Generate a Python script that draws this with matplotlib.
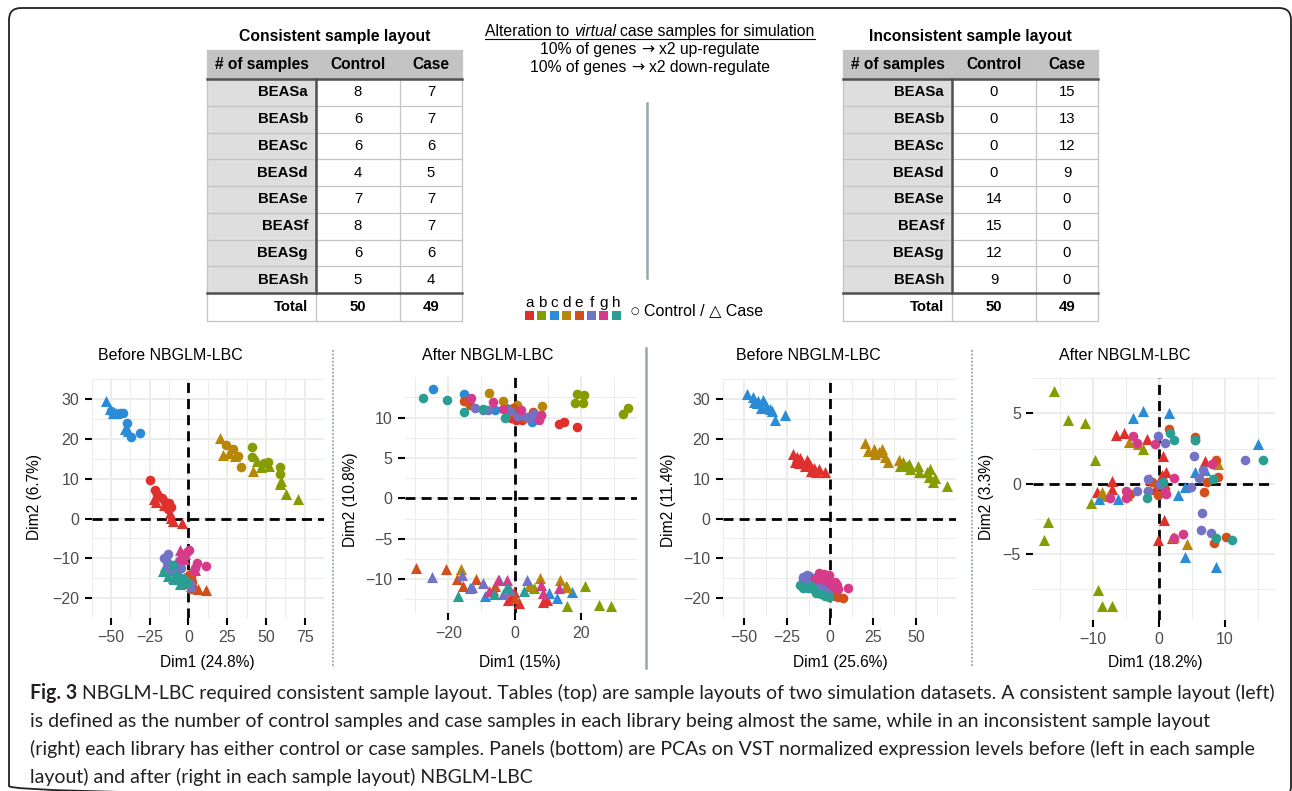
import matplotlib
matplotlib.use("Agg")
import matplotlib.pyplot as plt
from matplotlib.patches import Rectangle, FancyBboxPatch

plt.rcParams['font.family'] = ['Liberation Sans', 'DejaVu Sans']

# ---------------- data ----------------
libs = ["a", "b", "c", "d", "e", "f", "g", "h"]
lib_colors = ["#e0302e", "#879c00", "#2a8bd6", "#b8870a",
              "#d24f1c", "#7373c6", "#d63b89", "#2a9e92"]

row_labels = ["BEASa", "BEASb", "BEASc", "BEASd", "BEASe", "BEASf", "BEASg", "BEASh"]
consistent_control = [8, 6, 6, 4, 7, 8, 6, 5]
consistent_case = [7, 7, 6, 5, 7, 7, 6, 4]
inconsistent_control = [0, 0, 0, 0, 14, 15, 12, 9]
inconsistent_case = [15, 13, 12, 9, 0, 0, 0, 0]

panel_titles = ["Before NBGLM-LBC", "After NBGLM-LBC", "Before NBGLM-LBC", "After NBGLM-LBC"]
panel_xlabels = ["Dim1 (24.8%)", "Dim1 (15%)", "Dim1 (25.6%)", "Dim1 (18.2%)"]
panel_ylabels = ["Dim2 (6.7%)", "Dim2 (10.8%)", "Dim2 (11.4%)", "Dim2 (3.3%)"]

# PCA points: (library, Dim1, Dim2)
p1_control = [
    ("a", -25, 9.7), ("a", -21.5, 7.2), ("a", -20.5, 6.2), ("a", -17, 5.2), ("a", -15, 4.2),
    ("a", -12.5, 3.8), ("a", -11.5, 3.0), ("a", -13.5, 2.5),
    ("b", 41.3, 18), ("b", 41.3, 15.4), ("b", 51.4, 14.2), ("b", 58.8, 12.9), ("b", 59.2, 11.2), ("b", 49, 14.0),
    ("c", -50, 27), ("c", -44, 26.5), ("c", -42, 26.5), ("c", -40, 24), ("c", -37, 20.5), ("c", -31, 21.5),
    ("d", 24.5, 18.5), ("d", 28.5, 17.4), ("d", 32, 15.6), ("d", 34, 13),
    ("e", 0.5, -14.2), ("e", 1.5, -15), ("e", -1, -15.5), ("e", 2, -16), ("e", -6, -12.5), ("e", -2, -16.5), ("e", 3, -13.5),
    ("f", -13.5, -8.8), ("f", -16, -9.8), ("f", -14, -11), ("f", -8.5, -12), ("f", -7, -11.5), ("f", -10, -13),
    ("f", -5, -12.5), ("f", 1, -16.5),
    ("g", 0.3, -7.9), ("g", 5.2, -11.3), ("g", 11.6, -12.0), ("g", -3, -9.5), ("g", -1, -8.5), ("g", 4, -12.5),
    ("h", -10, -11.7), ("h", -2, -15.5), ("h", -1, -16.2), ("h", -5, -15), ("h", -8, -14.5),
]
p1_case = [
    ("a", -22, 5.0), ("a", -21, 4.2), ("a", -16, 3.5), ("a", -12, 1.5), ("a", -11, 0.2), ("a", -10, -0.5), ("a", -4, -1.0),
    ("b", 44.2, 14.5), ("b", 47.1, 12.9), ("b", 52, 13.2), ("b", 58.8, 8.7), ("b", 60, 9.5), ("b", 63.1, 6.2), ("b", 70.5, 4.9),
    ("c", -53.5, 29.5), ("c", -51, 27.5), ("c", -49, 26.5), ("c", -47, 26.5), ("c", -41, 22.5), ("c", -39, 22.0),
    ("d", 20.5, 20.2), ("d", 22, 16), ("d", 26, 16.5), ("d", 30, 15.8), ("d", 41.5, 12),
    ("e", 4.5, -17.5), ("e", 11, -18), ("e", 6, -17.8), ("e", 2, -17), ("e", 0, -16), ("e", -2, -15), ("e", 3, -17.5),
    ("f", -15, -12), ("f", -12, -13), ("f", -8, -11), ("f", -6, -14), ("f", -3, -15), ("f", 1.5, -17), ("f", -10, -15),
    ("g", -5.5, -8.0), ("g", -3.2, -10.2), ("g", -2, -9), ("g", 3.5, -12.5), ("g", 4, -13), ("g", -6, -10),
    ("h", -16.3, -13.1), ("h", -13.3, -14.5), ("h", -9.4, -15.3), ("h", -5.5, -16.4),
]

p2_control = [
    ("a", -1, 9.9), ("a", 0.5, 9.7), ("a", 2.2, 9.7), ("a", 4, 10.1), ("a", 13.4, 9.2), ("a", 14.8, 9.4),
    ("a", 19, 8.8), ("a", -2, 10.3),
    ("b", 18.8, 12.9), ("b", 21, 12.8), ("b", 18.3, 11.8), ("b", 20.8, 11.8), ("b", 32.7, 10.5), ("b", 34.2, 11.2),
    ("c", -24.5, 13.6), ("c", -15.2, 12.9), ("c", -6, 11), ("c", -2.5, 11.2), ("c", 5.2, 9.4), ("c", 8, 10.3),
    ("d", -7.6, 13.0), ("d", -3.4, 12.0), ("d", 0.7, 11.6), ("d", 8.2, 11.4),
    ("e", -15.3, 12.0), ("e", -13.5, 11.6), ("e", -0.4, 11.2), ("e", 0.5, 10.4), ("e", 5.7, 10.7), ("e", -2, 10.5), ("e", 3, 10),
    ("f", -11.9, 11.2), ("f", -9.4, 10.9), ("f", -8, 11.0), ("f", 3.7, 10.1), ("f", 4.7, 9.9), ("f", 6, 10.4),
    ("f", -1.5, 10.8), ("f", 1, 10.2),
    ("g", -13.2, 12.4), ("g", -6.4, 11.9), ("g", -3.4, 11.1), ("g", 1.9, 10.9), ("g", 7.4, 9.7), ("g", 7.9, 10.3),
    ("h", -27.6, 12.4), ("h", -20.5, 12.2), ("h", -15.3, 10.7), ("h", -9.6, 11.1), ("h", -2.9, 10.0),
]
p2_case = [
    ("a", -6.4, -11.3), ("a", -1.9, -12.6), ("a", 1.2, -13), ("a", 8.7, -12.8), ("a", 9.7, -12.6), ("a", -0.2, -11.6), ("a", -0.9, -12.1),
    ("b", 4.7, -10.9), ("b", 5.9, -11.1), ("b", 15.4, -10.9), ("b", 16, -13.3), ("b", 21.3, -10.8), ("b", 25.6, -13.2), ("b", 29, -13.3),
    ("c", -13.5, -11.1), ("c", -8.9, -12.1), ("c", 10.3, -11.7), ("c", 12.7, -12.3), ("c", 17.3, -11.6), ("c", -4.7, -10.1),
    ("d", -16.2, -8.8), ("d", 4.5, -10.9), ("d", 7.7, -9.9), ("d", 13.8, -10.1), ("d", 15.8, -11),
    ("e", -29.8, -8.6), ("e", -20.7, -8.8), ("e", -17.5, -10.0), ("e", -11.7, -10.0), ("e", -15.5, -10.8), ("e", -6, -10.8), ("e", 0, -12.3),
    ("f", -25, -9.7), ("f", -16, -9.5), ("f", -13, -11), ("f", -9.4, -10.5), ("f", -3.4, -11.8), ("f", -1.4, -11.3), ("f", 3.7, -10.1),
    ("g", -4.9, -10.1), ("g", -2.4, -10.1), ("g", 8, -10.7), ("g", 8.5, -11.7), ("g", 13.4, -11.1), ("g", -7.6, -11.5),
    ("h", -17, -12.1), ("h", -6.2, -11.8), ("h", -2.4, -11), ("h", 2.9, -11.5),
]

p3_control = [
    ("e", 7.8, -20), ("e", 2.7, -19.5), ("e", -0.9, -18.6), ("e", -2.7, -17.4), ("e", 0.9, -19), ("e", -1.8, -17.8),
    ("e", 0, -18.2), ("e", -4.5, -18.2), ("e", 1.8, -17.4), ("e", 3.6, -19), ("e", -6.4, -17), ("e", -3.6, -19),
    ("e", -0.5, -19.4), ("e", 4.5, -19.8),
    ("f", -13.6, -14.2), ("f", -15.5, -15.1), ("f", -12, -15.5), ("f", -10, -16), ("f", -8, -16.5), ("f", -5, -17),
    ("f", -14, -16), ("f", -11, -17), ("f", -2, -18.5), ("f", -16, -14.8), ("f", -9, -15), ("f", -6, -16),
    ("f", -3, -17.5), ("f", -1, -19), ("f", -12.5, -14.5),
    ("g", -6.7, -13.6), ("g", -0.5, -14.3), ("g", 0, -16.3), ("g", 4.5, -17.8), ("g", 10.5, -17.4), ("g", -2.7, -15.5),
    ("g", 2.7, -15.9), ("g", -4.5, -15.1), ("g", 1.8, -17), ("g", 4.2, -16.7), ("g", -3.6, -14), ("g", -8.5, -15.1),
    ("h", -17.3, -16.7), ("h", -15.5, -17.4), ("h", -12.7, -17.4), ("h", -10, -17.8), ("h", -8.2, -18.6),
    ("h", -5.5, -19), ("h", -3.1, -19.4), ("h", -0.9, -19.8), ("h", -10.9, -17),
]
p3_case = [
    ("a", -21.8, 16.3), ("a", -19.5, 15.5), ("a", -20.5, 14.3), ("a", -17.3, 15.1), ("a", -16.4, 14), ("a", -13.6, 14.7),
    ("a", -11.8, 13.4), ("a", -9.6, 12.6), ("a", -10.9, 12), ("a", -8.2, 11.6), ("a", -3.1, 11.6), ("a", -14.5, 13.2),
    ("a", -18.2, 14), ("a", -12.7, 14.2), ("a", -6.4, 12.4),
    ("b", 40.9, 13.2), ("b", 42.4, 14.3), ("b", 44.5, 13.2), ("b", 46.4, 12.4), ("b", 50.9, 13.2), ("b", 51.8, 11.6),
    ("b", 56.4, 11.6), ("b", 58.2, 12.4), ("b", 57.3, 10.5), ("b", 60, 9.3), ("b", 60.9, 10.1), ("b", 67.8, 8.1), ("b", 46, 13.7),
    ("c", -48.2, 31.4), ("c", -44.9, 30.5), ("c", -44.5, 29.2), ("c", -41.8, 29.5), ("c", -39.1, 29.8), ("c", -40, 27.9),
    ("c", -37.3, 28.4), ("c", -35.1, 27.5), ("c", -31.8, 24.8), ("c", -26.4, 26), ("c", -33.6, 27.1), ("c", -42.7, 29.1),
    ("d", 20.2, 19), ("d", 21.8, 17.1), ("d", 25.5, 17.4), ("d", 28.5, 16.7), ("d", 30, 17.4), ("d", 31.8, 15.5),
    ("d", 33.6, 14.3), ("d", 40, 14.7), ("d", 26.4, 16.3),
]

p4_control = [
    ("e", 1.5, 3.9), ("e", 5.4, 3.3), ("e", 8.6, 1.7), ("e", 8.9, 0.5), ("e", 7.2, 0.1), ("e", 6.8, -0.6), ("e", 8.4, -4.2),
    ("e", 10.1, -3.8), ("e", -0.2, -0.1), ("e", -0.1, -0.8), ("e", -1.7, -0.5), ("e", -4.4, -0.7), ("e", -1.1, 0.1), ("e", 0.9, -0.4),
    ("f", -0.2, 3.4), ("f", 0.9, 2.9), ("f", 5.5, 3.1), ("f", 5.3, 2.0), ("f", 13.1, 1.7), ("f", 6.7, 1.0), ("f", 6.1, 0.4),
    ("f", -1.7, 0.3), ("f", -3.3, -0.5), ("f", -1.7, -0.5), ("f", 4.9, -0.2), ("f", 6.5, -2.1), ("f", 6.4, -3.3),
    ("f", 7.9, -3.5), ("f", 0.2, 0.0),
    ("g", -3.9, 3.4), ("g", -3.4, 2.9), ("g", -0.6, 2.8), ("g", 8, 1.4), ("g", 2.3, 0.4), ("g", -7.4, -1.0),
    ("g", -5, -0.5), ("g", -5, -1.0), ("g", 1, -0.7), ("g", 3.7, -3.6), ("g", 2.3, -3.9), ("g", 0.9, -0.6),
    ("h", 1.6, 3.6), ("h", 2.3, 3.1), ("h", 5.5, 3.1), ("h", 15.8, 1.7), ("h", 8.2, 0.3), ("h", 0.6, 0.1),
    ("h", -1.9, -1.0), ("h", 8.7, -3.9), ("h", 11, -4.0),
]
p4_case = [
    ("a", -6.5, 3.5), ("a", -5.4, 3.6), ("a", -1.9, 3.2), ("a", 0.6, 2.0), ("a", 7, 1.6), ("a", 1.1, 0.8), ("a", -7.2, 0.2),
    ("a", -9.5, -0.6), ("a", -7.2, -0.4), ("a", -1.4, 0.3), ("a", 0.8, -2.6), ("a", -0.1, -4), ("a", 1.9, -3.9),
    ("a", -0.6, -0.4), ("a", 0.5, 0.6),
    ("b", -15.9, 6.6), ("b", -13.9, 4.5), ("b", -11.2, 4.3), ("b", -9.8, 1.7), ("b", -16.8, -2.7), ("b", -17.5, -4),
    ("b", -9.2, -7.6), ("b", -8.6, -8.7), ("b", -7.2, -8.7), ("b", -10.4, -1.4), ("b", -8.8, -0.8), ("b", -2.4, 2.5), ("b", 0.4, 0.0),
    ("c", -3.9, 4.7), ("c", -2.4, 5.2), ("c", 1.5, 5.0), ("c", 15, 2.8), ("c", 5.4, 0.8), ("c", 3.9, -0.2),
    ("c", 2.9, -0.8), ("c", 3.9, -5.2), ("c", 8.7, -5.9), ("c", -9.1, -1.1), ("c", -6.2, -1.1), ("c", 6.9, 1.0),
    ("d", -4.6, 3.0), ("d", -3.2, 2.8), ("d", 2.2, -3.8), ("d", 4.3, -4.3), ("d", 9, 1.4), ("d", -7.7, -0.9),
    ("d", -4.8, -0.8), ("d", 0.6, 0.0), ("d", -8.7, -0.6),
]

# ---------------- figure ----------------
W, H = 1292, 791
fig = plt.figure(figsize=(W / 100, H / 100), dpi=100)
bg = fig.add_axes([0, 0, 1, 1])
bg.set_xlim(0, W)
bg.set_ylim(H, 0)
bg.axis('off')

# rounded frame
bg.add_patch(FancyBboxPatch((9, 8), 1282, 790, boxstyle="round,pad=0,rounding_size=12",
                            fc='none', ec='#222222', lw=1.3))

# ---------------- tables ----------------
def draw_table(x0, title, ctrl, case):
    xs = [x0, x0 + 109, x0 + 193, x0 + 255]
    y_head, y_body, rh = 50, 79, 26.75
    y_tot = y_body + len(row_labels) * rh
    y_end = y_tot + 28
    bg.add_patch(Rectangle((xs[0], y_head), xs[3] - xs[0], y_body - y_head, fc='#c3c3c3', ec='none'))
    bg.add_patch(Rectangle((xs[0], y_body), xs[1] - xs[0], y_tot - y_body, fc='#dedede', ec='none'))
    thin = dict(color='#c4c4c4', lw=0.9)
    for i in range(len(row_labels) + 1):
        yy = y_body + i * rh
        bg.plot([xs[0], xs[3]], [yy, yy], **thin)
    bg.plot([xs[0], xs[3]], [y_head, y_head], **thin)
    bg.plot([xs[0], xs[3]], [y_end, y_end], **thin)
    for xx in xs:
        bg.plot([xx, xx], [y_head, y_end], **thin)
    thick = dict(color='#505050', lw=1.8)
    bg.plot([xs[0], xs[3]], [y_body, y_body], **thick)
    bg.plot([xs[0], xs[3]], [y_tot, y_tot], **thick)
    bg.plot([xs[1], xs[1]], [y_body, y_tot], **thick)

    bg.text((xs[0] + xs[3]) / 2, 37, title, ha='center', va='center', fontsize=11.3, fontweight='bold')
    hy = (y_head + y_body) / 2
    for txt, c in zip(["# of samples", "Control", "Case"], range(3)):
        bg.text((xs[c] + xs[c + 1]) / 2, hy, txt, ha='center', va='center', fontsize=11.2, fontweight='bold')
    for i, lab in enumerate(row_labels):
        yy = y_body + (i + 0.5) * rh
        bg.text(xs[1] - 8, yy, lab, ha='right', va='center', fontsize=10.7, fontweight='bold')
        bg.text((xs[1] + xs[2]) / 2, yy, str(ctrl[i]), ha='center', va='center', fontsize=10.7)
        bg.text((xs[2] + xs[3]) / 2, yy, str(case[i]), ha='center', va='center', fontsize=10.7)
    ty = (y_tot + y_end) / 2
    bg.text(xs[1] - 8, ty, "Total", ha='right', va='center', fontsize=10.7, fontweight='bold')
    bg.text((xs[1] + xs[2]) / 2, ty, str(sum(ctrl)), ha='center', va='center', fontsize=10.7, fontweight='bold')
    bg.text((xs[2] + xs[3]) / 2, ty, str(sum(case)), ha='center', va='center', fontsize=10.7, fontweight='bold')


draw_table(207, "Consistent sample layout", consistent_control, consistent_case)
draw_table(843, "Inconsistent sample layout", inconsistent_control, inconsistent_case)

# middle heading: text runs of mixed styles, centred as a whole
fig.canvas.draw()
rend = fig.canvas.get_renderer()
head_fs = 11.3


def run_width(txt, **kw):
    if txt == " ":
        t1 = bg.text(0, 0, "a a", fontsize=head_fs, **kw)
        t2 = bg.text(0, 0, "aa", fontsize=head_fs, **kw)
        w = t1.get_window_extent(rend).width - t2.get_window_extent(rend).width
        t1.remove()
        t2.remove()
        return w
    t = bg.text(0, 0, txt, fontsize=head_fs, **kw)
    w = t.get_window_extent(rend).width
    t.remove()
    return w


def draw_runs(xc, y, runs):
    widths = [run_width(txt, **kw) for txt, kw in runs]
    x = xc - sum(widths) / 2
    for (txt, kw), w in zip(runs, widths):
        if txt.strip():
            bg.text(x, y, txt, fontsize=head_fs, ha='left', va='baseline', **kw)
        x += w
    return xc - sum(widths) / 2, xc + sum(widths) / 2


arrow_kw = dict(family=['DejaVu Sans'])
x_a, x_b = draw_runs(650, 36, [("Alteration to", {}), (" ", {}), ("virtual", dict(style='italic')),
                              (" ", {}), ("case samples for simulation", {})])
bg.plot([x_a, x_b], [38.5, 38.5], color='black', lw=0.8)
draw_runs(650, 54, [("10% of genes", {}), (" ", {}), ("\u2192", arrow_kw), (" ", {}), ("x2 up-regulate", {})])
draw_runs(650, 72, [("10% of genes", {}), (" ", {}), ("\u2192", arrow_kw), (" ", {}), ("x2 down-regulate", {})])

sep_col = '#98a6a6'
bg.plot([647, 647], [103, 278], color=sep_col, lw=1.8)

# colour key
for i, (lib, col) in enumerate(zip(libs, lib_colors)):
    x = 525 + i * 12.4
    bg.add_patch(Rectangle((x, 311), 9, 8.5, fc=col, ec='none'))
    bg.text(x + 4.5, 303, lib, ha='center', va='center', fontsize=11)
bg.text(635, 311, "\u25cb", ha='center', va='center', fontsize=7, family=['DejaVu Sans'])
bg.text(644, 311, "Control / \u25b3 Case", ha='left', va='center', fontsize=11.5,
        family=['Liberation Sans', 'DejaVu Sans'])

# panel separators
bg.plot([333, 333], [350, 668], color=sep_col, lw=1.3, ls=(0, (1, 1)))
bg.plot([972, 972], [350, 668], color=sep_col, lw=1.3, ls=(0, (1, 1)))
bg.plot([646, 646], [348, 668], color=sep_col, lw=1.8)

# ---------------- PCA panels ----------------
panel_rects = [(91.7, 379.3, 324, 618), (405, 376.7, 637, 613),
               (722.7, 379.3, 956, 618), (1033.3, 378.3, 1275, 620)]
panel_lims = [((-59.1, 76.75), (-20.65, 31.4)), ((-33.1, 37.0), (-14.2, 15.07)),
              ((-54, 73.3), (-22.4, 33.1)), ((-19.1, 17.6), (-9.7, 7.2))]
panel_xticks = [[-50, -25, 0, 25, 50, 75], [-20, 0, 20], [-50, -25, 0, 25, 50], [-10, 0, 10]]
panel_yticks = [[-20, -10, 0, 10, 20, 30], [-10, -5, 0, 5, 10], [-20, -10, 0, 10, 20, 30], [-5, 0, 5]]
title_pos = [(170, 355), (488, 355), (808, 355), (1125, 355)]
xlab_pos = [(207, 662), (520, 662), (840, 662), (1155, 662)]
ylab_pos = [(35, 497), (350, 500), (668, 500), (986, 497)]
panel_data = [(p1_control, p1_case), (p2_control, p2_case), (p3_control, p3_case), (p4_control, p4_case)]

for k in range(4):
    L, T, R, B = panel_rects[k]
    ax = fig.add_axes([L / W, 1 - B / H, (R - L) / W, (B - T) / H])
    ax.set_facecolor('none')
    for s in ax.spines.values():
        s.set_visible(False)
    xlim, ylim = panel_lims[k]
    ax.set_xlim(xlim)
    ax.set_ylim(ylim)
    xt, yt = panel_xticks[k], panel_yticks[k]
    ax.set_xticks(xt)
    ax.set_yticks(yt)
    dx, dy = xt[1] - xt[0], yt[1] - yt[0]
    ax.set_xticks([xt[0] - dx / 2] + [v + dx / 2 for v in xt], minor=True)
    ax.set_yticks([yt[0] - dy / 2] + [v + dy / 2 for v in yt], minor=True)
    ax.grid(which='major', color='#ebebeb', lw=1.3)
    ax.grid(which='minor', color='#ebebeb', lw=0.65)
    ax.set_axisbelow(True)
    ax.tick_params(which='major', length=5, width=1.5, color='black', labelsize=11.5,
                   labelcolor='#4d4d4d', pad=4)
    ax.tick_params(which='minor', length=0)
    ax.axhline(0, color='black', lw=2.0, ls=(0, (3.6, 2.2)), zorder=1.5)
    ax.axvline(0, color='black', lw=2.0, ls=(0, (3.6, 2.2)), zorder=1.5)

    ctrl, case = panel_data[k]
    for lib, col in zip(libs, lib_colors):
        cx = [p[1] for p in ctrl if p[0] == lib]
        cy = [p[2] for p in ctrl if p[0] == lib]
        tx = [p[1] for p in case if p[0] == lib]
        ty = [p[2] for p in case if p[0] == lib]
        if cx:
            ax.scatter(cx, cy, s=48, marker='o', color=col, linewidths=0, zorder=3)
        if tx:
            ax.scatter(tx, ty, s=64, marker='^', color=col, linewidths=0, zorder=3)

    ax.set_xlabel(panel_xlabels[k], fontsize=11.2, va='center')
    ax.set_ylabel(panel_ylabels[k], fontsize=11.2, va='center')
    ax.xaxis.set_label_coords((xlab_pos[k][0] - L) / (R - L), (B - xlab_pos[k][1]) / (B - T))
    ax.yaxis.set_label_coords((ylab_pos[k][0] - L) / (R - L), (B - ylab_pos[k][1]) / (B - T))
    bg.text(title_pos[k][0], title_pos[k][1], panel_titles[k], ha='center', va='center', fontsize=11.5)

# ---------------- caption ----------------
cap_lines = [
    "NBGLM-LBC required consistent sample layout. Tables (top) are sample layouts of two simulation datasets. A consistent sample layout (left)",
    "is defined as the number of control samples and case samples in each library being almost the same, while in an inconsistent sample layout",
    "(right) each library has either control or case samples. Panels (bottom) are PCAs on VST normalized expression levels before (left in each sample",
    "layout) and after (right in each sample layout) NBGLM-LBC",
]
cap_y = [693, 721, 749, 777]
cap_x0, cap_x1 = 30, 1275
cap_font = ['Lato', 'DejaVu Sans']
fs0 = 12
fig.canvas.draw()
tb = bg.text(0, 0, "Fig. 3 ", fontsize=fs0, fontweight='bold', family=cap_font)
tr = bg.text(0, 0, cap_lines[0], fontsize=fs0, family=cap_font)
w0 = tb.get_window_extent(rend).width + tr.get_window_extent(rend).width
tb.remove()
tr.remove()
fs = fs0 * (cap_x1 - cap_x0) / w0
tb = bg.text(cap_x0, cap_y[0], "Fig. 3", fontsize=fs, fontweight='bold', family=cap_font,
             ha='left', va='center', color='#231f20')
fig.canvas.draw()
wb = tb.get_window_extent(rend).width
sp = bg.text(0, 0, "a a", fontsize=fs, family=cap_font)
sa = bg.text(0, 0, "aa", fontsize=fs, family=cap_font)
wsp = sp.get_window_extent(rend).width - sa.get_window_extent(rend).width
sp.remove()
sa.remove()
for i, line in enumerate(cap_lines):
    x = cap_x0 + wb + wsp if i == 0 else cap_x0
    bg.text(x, cap_y[i], line, fontsize=fs, family=cap_font, ha='left', va='center', color='#231f20')

fig.savefig("out.png", dpi=100)
